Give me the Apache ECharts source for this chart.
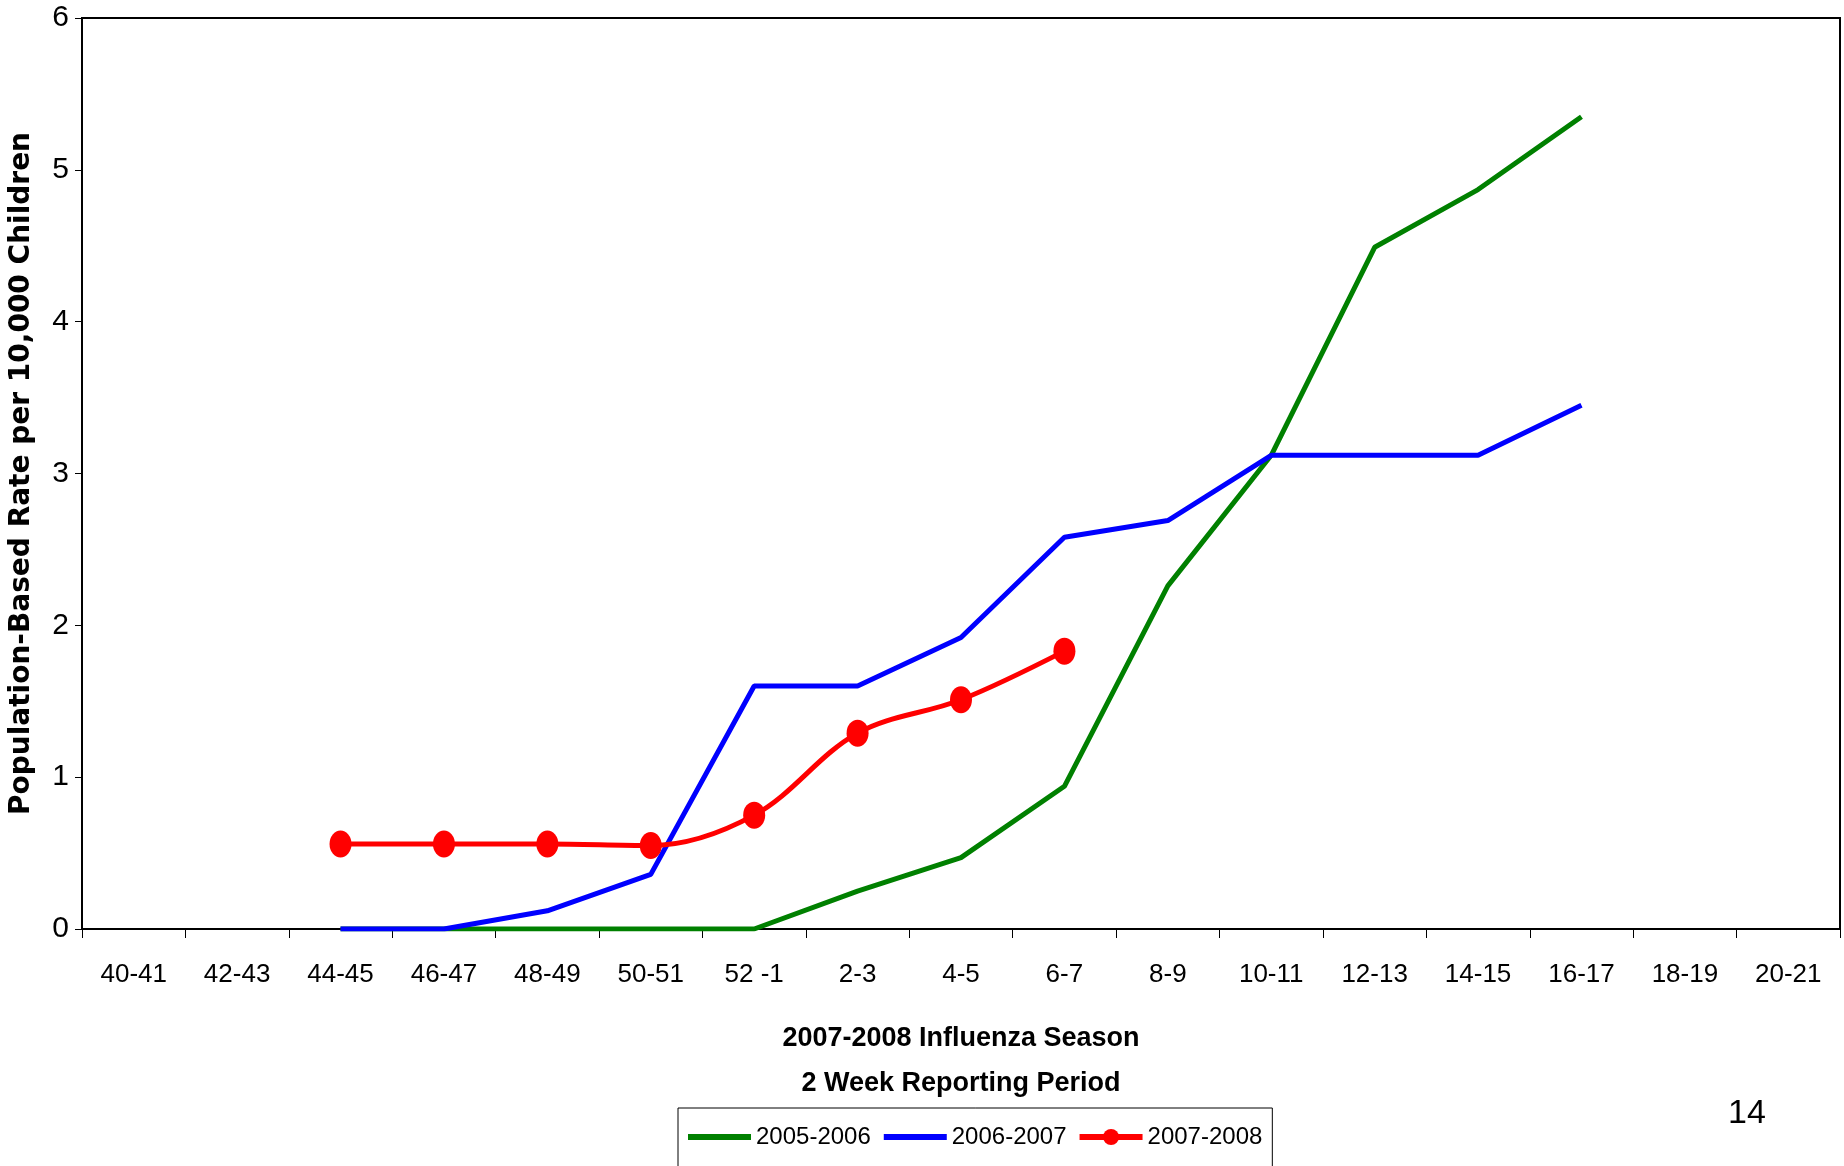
<!DOCTYPE html>
<html>
<head>
<meta charset="utf-8">
<script src="https://cdn.jsdelivr.net/npm/echarts@6/dist/echarts.min.js"></script>
<style>
html,body{margin:0;padding:0;background:#fff;}
#chart{width:1844px;height:1166px;}
</style>
</head>
<body>
<div id="chart"></div>
<script>
const categories = ['40-41','42-43','44-45','46-47','48-49','50-51','52 -1','2-3','4-5','6-7','8-9','10-11','12-13','14-15','16-17','18-19','20-21'];
const season2005 = [null,null,0,0,0,0,0,0.25,0.47,0.94,2.26,3.12,4.49,4.87,5.35,null,null];
const season2006 = [null,null,0,0,0.12,0.36,1.60,1.60,1.92,2.58,2.69,3.12,3.12,3.12,3.45,null,null];
const season2007 = [null,null,0.56,0.56,0.56,0.55,0.75,1.29,1.51,1.83,null,null,null,null,null,null,null];
const seriesNames = ['2005-2006','2006-2007','2007-2008'];
const yMin = 0, yMax = 6, yStep = 1;

const sans = '"Liberation Sans",Arial,sans-serif';
const chart = echarts.init(document.getElementById('chart'));
chart.setOption({
  animation: false,
  backgroundColor: '#fff',
  grid: {left: 82, right: 4, top: 18, bottom: 237, show: true, borderColor: '#000', borderWidth: 2, containLabel: false},
  legend: {
    data: [
      {name: seriesNames[0], itemStyle: {opacity: 0}},
      {name: seriesNames[1], itemStyle: {opacity: 0}},
      {name: seriesNames[2]}
    ],
    left: 678, top: 1108,
    orient: 'horizontal',
    borderColor: '#000', borderWidth: 1,
    padding: [17, 10, 40, 7],
    itemGap: 10,
    itemWidth: 63, itemHeight: 20,
    lineStyle: {width: 6},
    textStyle: {fontFamily: sans, fontSize: 24, color: '#000'}
  },
  xAxis: {
    type: 'category',
    data: categories,
    boundaryGap: true,
    axisLine: {lineStyle: {color: '#000', width: 2}},
    axisTick: {show: true, length: 9, alignWithLabel: false, lineStyle: {color: '#000', width: 1}},
    axisLabel: {fontFamily: sans, fontSize: 26, color: '#000', margin: 33, interval: 0},
    name: '2007-2008 Influenza Season\n2 Week Reporting Period',
    nameLocation: 'middle',
    nameGap: 87,
    nameTextStyle: {fontFamily: sans, fontSize: 27, fontWeight: 'bold', color: '#000', lineHeight: 45}
  },
  yAxis: {
    type: 'value',
    min: yMin, max: yMax, interval: yStep,
    axisLine: {show: true, lineStyle: {color: '#000', width: 2}},
    axisTick: {show: true, length: 7, lineStyle: {color: '#000', width: 1}},
    splitLine: {show: false},
    axisLabel: {fontFamily: sans, fontSize: 30, color: '#000', margin: 13},
    name: 'Population-Based Rate per 10,000 Children',
    nameLocation: 'middle',
    nameGap: 46,
    nameTextStyle: {fontFamily: '"DejaVu Sans",sans-serif', fontSize: 28, fontWeight: 'bold', color: '#000'}
  },
  graphic: [{
    type: 'text', left: 1728, top: 1097,
    style: {text: '14', fontFamily: sans, fontSize: 34, fill: '#000'}
  }],
  series: [
    {name: seriesNames[0], type: 'line', data: season2005, symbol: 'none', lineStyle: {color: '#008000', width: 5}, itemStyle: {color: '#008000'}},
    {name: seriesNames[1], type: 'line', data: season2006, symbol: 'none', lineStyle: {color: '#0000ff', width: 5}, itemStyle: {color: '#0000ff'}},
    {name: seriesNames[2], type: 'line', data: season2007, smooth: 0.35, symbol: 'circle', symbolSize: [22, 27], lineStyle: {color: '#ff0000', width: 5}, itemStyle: {color: '#ff0000'}}
  ]
});
</script>
</body>
</html>
